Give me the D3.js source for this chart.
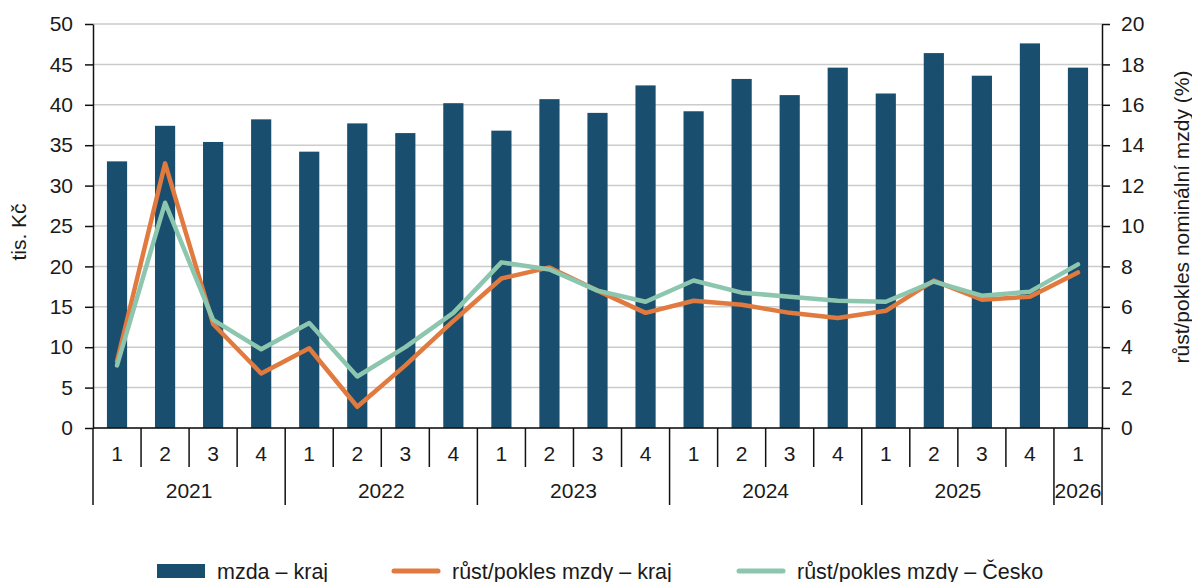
<!DOCTYPE html>
<html>
<head>
<meta charset="utf-8">
<script src="https://cdn.jsdelivr.net/npm/d3@7"></script>
<style>
  body { margin: 0; background: #fff; }
  text { font-family: "Liberation Sans", Arial, sans-serif; fill: #1a1a1a; }
</style>
</head>
<body>
<svg id="chart" width="1192" height="582"></svg>
<script>
// quarters and years on the category axis
const quarters = ["1","2","3","4","1","2","3","4","1","2","3","4","1","2","3","4","1","2","3","4","1"];
const years = [
  {label: "2021", start: 0, count: 4},
  {label: "2022", start: 4, count: 4},
  {label: "2023", start: 8, count: 4},
  {label: "2024", start: 12, count: 4},
  {label: "2025", start: 16, count: 4},
  {label: "2026", start: 20, count: 1}
];

// average wage in the region (tis. Kč)
const mzdaKraj = [33.0, 37.4, 35.4, 38.2, 34.2, 37.7, 36.5, 40.2, 36.8, 40.7, 39.0, 42.4,
                  39.2, 43.2, 41.2, 44.6, 41.4, 46.4, 43.6, 47.6, 44.6];

// nominal wage growth (%)
const rustKraj = [3.3, 13.1, 5.15, 2.7, 3.95, 1.05, 3.1, 5.3, 7.4, 7.95, 6.8, 5.7,
                  6.3, 6.1, 5.7, 5.45, 5.8, 7.3, 6.35, 6.5, 7.7];
const rustCesko = [3.1, 11.15, 5.35, 3.9, 5.2, 2.55, 4.0, 5.7, 8.2, 7.85, 6.8, 6.25,
                   7.3, 6.7, 6.5, 6.3, 6.25, 7.25, 6.55, 6.75, 8.1];

const leftTicks = [0, 5, 10, 15, 20, 25, 30, 35, 40, 45, 50];
const rightTicks = [0, 2, 4, 6, 8, 10, 12, 14, 16, 18, 20];

const colBar = "#1a4e6e", colKraj = "#e07a3f", colCesko = "#8cc6ae";
const fontSize = "21px";

const svg = d3.select("#chart");
const margin = {top: 24, right: 90, bottom: 154, left: 93};
const width = 1192 - margin.left - margin.right;
const height = 582 - margin.top - margin.bottom;

const g = svg.append("g").attr("transform", `translate(${margin.left},${margin.top})`);

const x = d3.scaleBand().domain(d3.range(quarters.length)).range([0, width]).padding(0);
const yL = d3.scaleLinear().domain([0, 50]).range([height, 0]);
const yR = d3.scaleLinear().domain([0, 20]).range([height, 0]);
const barW = x.bandwidth() * 0.42;

//Grid lines
g.append("g").selectAll("line").data(leftTicks).join("line")
    .attr("x1", 0).attr("x2", width)
    .attr("y1", d => yL(d)).attr("y2", d => yL(d))
    .attr("stroke", "#cbcbcb").attr("stroke-width", 1.5);

//Bars
g.append("g").selectAll("rect").data(mzdaKraj).join("rect")
    .attr("x", (d,i) => x(i) + (x.bandwidth() - barW)/2)
    .attr("width", barW)
    .attr("y", d => yL(d))
    .attr("height", d => height - yL(d))
    .attr("fill", colBar);

//Lines, the Czech one drawn last as in the legend
const growthLine = d3.line().x((d,i) => x(i) + x.bandwidth()/2).y(d => yR(d));
[[rustKraj, colKraj], [rustCesko, colCesko]].forEach(([data, col]) => {
  g.append("path").datum(data)
    .attr("d", growthLine)
    .attr("fill", "none")
    .attr("stroke", col)
    .attr("stroke-width", 4.5)
    .attr("stroke-linejoin", "round")
    .attr("stroke-linecap", "round");
});

//Left axis
const axL = g.append("g").call(d3.axisLeft(yL).tickValues(leftTicks).tickSize(8).tickPadding(12).tickSizeOuter(0));
//Right axis
const axR = g.append("g").attr("transform", `translate(${width},0)`)
    .call(d3.axisRight(yR).tickValues(rightTicks).tickSize(8).tickPadding(11).tickSizeOuter(0));
[axL, axR].forEach(ax => {
  ax.select(".domain").attr("stroke", "#111").attr("stroke-width", 1.5);
  ax.selectAll(".tick line").attr("stroke", "#111").attr("stroke-width", 1.5);
  ax.selectAll(".tick text").style("font-size", fontSize).attr("fill", "#1a1a1a");
});

//Category axis: baseline, separators, quarter and year labels
const cat = g.append("g").attr("transform", `translate(0,${height})`);
cat.append("line").attr("x1", 0).attr("x2", width).attr("stroke", "#111").attr("stroke-width", 1.5);

const yearStarts = years.map(d => d.start);
const seps = d3.range(quarters.length + 1);
cat.selectAll("line.sep").data(seps).join("line")
    .attr("class", "sep")
    .attr("x1", i => i < quarters.length ? x(i) : width)
    .attr("x2", i => i < quarters.length ? x(i) : width)
    .attr("y1", 0)
    .attr("y2", i => (yearStarts.includes(i) || i === quarters.length) ? 77 : 39)
    .attr("stroke", "#111").attr("stroke-width", 1.5);

cat.selectAll("text.q").data(quarters).join("text")
    .attr("class", "q")
    .attr("x", (d,i) => x(i) + x.bandwidth()/2)
    .attr("y", 33)
    .attr("text-anchor", "middle")
    .style("font-size", fontSize)
    .text(d => d);

cat.selectAll("text.yr").data(years).join("text")
    .attr("class", "yr")
    .attr("x", d => x(d.start) + d.count * x.bandwidth()/2)
    .attr("y", 70)
    .attr("text-anchor", "middle")
    .style("font-size", fontSize)
    .text(d => d.label);

//Axis titles
svg.append("text")
    .attr("transform", `translate(26,${margin.top + height/2 + 6}) rotate(-90)`)
    .attr("text-anchor", "middle")
    .style("font-size", fontSize)
    .text("tis. Kč");

svg.append("text")
    .attr("transform", `translate(1189,217) rotate(-90)`)
    .attr("text-anchor", "middle")
    .style("font-size", fontSize)
    .text("růst/pokles nominální mzdy (%)");

//Legend
const legendItems = [
  {label: "mzda – kraj", type: "bar", color: colBar, x: 157},
  {label: "růst/pokles mzdy – kraj", type: "line", color: colKraj, x: 392},
  {label: "růst/pokles mzdy – Česko", type: "line", color: colCesko, x: 737}
];
const leg = svg.append("g").attr("transform", "translate(0,571)");
legendItems.forEach(d => {
  if (d.type === "bar") {
    leg.append("rect").attr("x", d.x).attr("y", -7).attr("width", 48).attr("height", 14).attr("fill", d.color);
  } else {
    leg.append("line").attr("x1", d.x + 2).attr("x2", d.x + 46).attr("y1", 0).attr("y2", 0)
      .attr("stroke", d.color).attr("stroke-width", 5).attr("stroke-linecap", "round");
  }
  leg.append("text").attr("x", d.x + 60).attr("y", 7.5).style("font-size", "21.5px").text(d.label);
});
</script>
</body>
</html>
